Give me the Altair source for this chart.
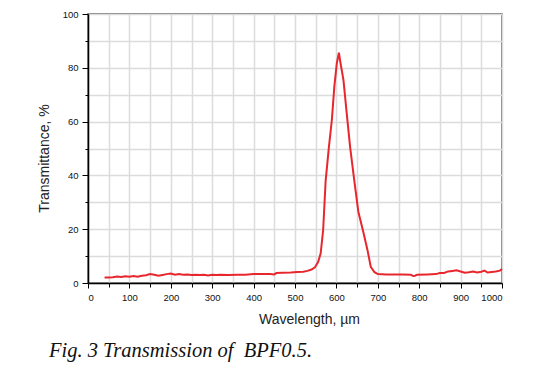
import altair as alt
import pandas as pd

wavelength = [40, 50, 60, 70, 80, 90, 100, 110, 120, 130, 140, 150, 160, 170, 180, 190,
              200, 210, 220, 230, 240, 250, 260, 270, 280, 290, 300, 310, 320, 340, 360,
              380, 400, 420, 440, 450, 455, 470, 490, 505, 520, 530, 540, 548, 556, 562,
              568, 574, 582, 589, 595, 601, 606, 610, 617, 625, 633, 643, 653, 665, 675,
              683, 692, 700, 720, 740, 760, 780, 785, 790, 795, 820, 840, 850, 860, 870,
              880, 890, 900, 910, 920, 930, 940, 950, 958, 965, 975, 985, 995, 1000]
transmittance = [2.0, 2.0, 2.1, 2.4, 2.2, 2.5, 2.3, 2.6, 2.3, 2.7, 2.9, 3.3, 3.1, 2.7, 3.0, 3.3,
                 3.5, 3.1, 3.3, 3.1, 3.2, 3.0, 3.1, 3.0, 3.1, 2.8, 3.1, 3.0, 3.1, 3.0, 3.1,
                 3.1, 3.3, 3.3, 3.3, 3.2, 3.7, 3.8, 3.9, 4.1, 4.2, 4.5, 5.0, 5.8, 7.9, 11.0,
                 19.7, 38.0, 50.7, 60.6, 73.0, 81.7, 85.6, 81.7, 75.5, 63.0, 50.7, 38.3, 26.5, 19.0, 12.3,
                 6.0, 4.0, 3.3, 3.2, 3.2, 3.2, 3.1, 2.6, 2.7, 3.1, 3.2, 3.3, 3.7, 3.7, 4.3,
                 4.5, 4.7, 4.3, 3.8, 4.0, 4.3, 3.9, 4.2, 4.6, 3.9, 4.1, 4.3, 4.6, 5.2]

x_ticks = list(range(0, 1001, 50))
y_ticks = list(range(0, 101, 10))
caption = "Fig. 3 Transmission of\u00a0 BPF0.5."

df = pd.DataFrame({"wavelength": wavelength, "transmittance": transmittance})

line = alt.Chart(df).mark_line(color="#e8262e", strokeWidth=2).encode(
    x=alt.X("wavelength:Q",
            scale=alt.Scale(domain=[0, 1000], nice=False),
            axis=alt.Axis(
                values=x_ticks, format="d",
                title="Wavelength, µm",
                titleFont="Liberation Sans", titleFontSize=14, titleFontWeight="normal",
                titleColor="#222", titleX=221, titleY=40, titleBaseline="alphabetic",
                labelExpr="datum.value % 100 === 0 ? datum.label : ''",
                labelFont="Liberation Sans", labelFontSize=9.5, labelColor="#111",
                labelPadding=4,
                tickSize={"condition": {"test": "datum.value % 100 === 0", "value": 5}, "value": 4},
                tickColor="#000", domainColor="#000", domainWidth=1.5,
                gridColor="#dcdcdc", gridWidth=1.5,
            )),
    y=alt.Y("transmittance:Q",
            scale=alt.Scale(domain=[0, 100], nice=False),
            axis=alt.Axis(
                values=y_ticks, format="d",
                title="Transmittance, %",
                titleFont="Liberation Sans", titleFontSize=14, titleFontWeight="normal",
                titleColor="#222", titleX=-40, titleY=144, titleBaseline="alphabetic",
                labelExpr="datum.value % 20 === 0 ? datum.label : ''",
                labelFont="Liberation Sans", labelFontSize=9.5, labelColor="#111",
                labelPadding=4,
                tickSize={"condition": {"test": "datum.value % 20 === 0", "value": 6}, "value": 3},
                tickColor="#000", domainColor="#000", domainWidth=1.5,
                gridColor="#dcdcdc", gridWidth=1.5,
            )),
)

cap = alt.Chart(pd.DataFrame({"t": [caption]})).mark_text(
    font="Liberation Serif", fontSize=20.5, fontStyle="italic", align="left",
    baseline="alphabetic", color="#111"
).encode(text="t:N", x=alt.value(-39), y=alt.value(343))

chart = alt.layer(line, cap).properties(
    width=414, height=269,
    padding={"left": 80, "top": 6, "right": 40, "bottom": 88},
    autosize="none",
).configure_view(stroke="#555", strokeWidth=1.5)

chart.save("out.html", embed_options={"renderer": "svg", "actions": False})
